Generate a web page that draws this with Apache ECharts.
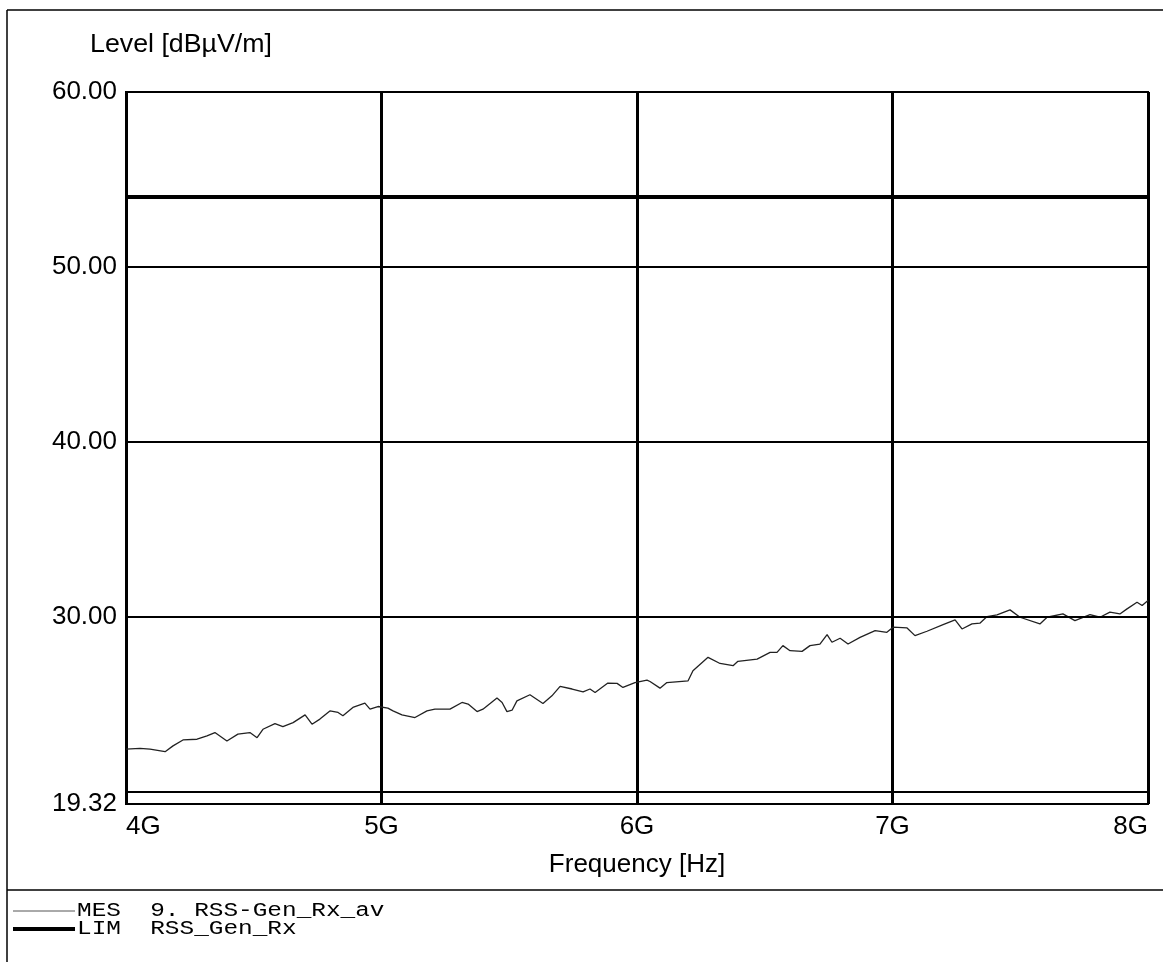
<!DOCTYPE html>
<html>
<head>
<meta charset="utf-8">
<title>Level vs Frequency</title>
<script src="https://cdn.jsdelivr.net/npm/echarts@6/dist/echarts.min.js"></script>
<style>
  html, body { margin: 0; padding: 0; background: #fff; }
  #chart { width: 1163px; height: 962px; }
</style>
</head>
<body>
<div id="chart"></div>
<script>
// frequency in GHz, level in dBuV/m
const mesFreq = [4.00, 4.055, 4.094, 4.153, 4.184, 4.223, 4.278, 4.317, 4.348, 4.395,
    4.438, 4.485, 4.513, 4.536, 4.583, 4.614, 4.654, 4.701, 4.728, 4.759,
    4.798, 4.830, 4.849, 4.888, 4.935, 4.955, 4.986, 5.025, 5.045, 5.080,
    5.131, 5.178, 5.209, 5.268, 5.315, 5.339, 5.374, 5.397, 5.452, 5.472,
    5.491, 5.511, 5.530, 5.581, 5.632, 5.667, 5.699, 5.746, 5.789, 5.816,
    5.836, 5.886, 5.922, 5.945, 5.992, 6.039, 6.051, 6.090, 6.117, 6.200,
    6.219, 6.278, 6.325, 6.376, 6.395, 6.470, 6.521, 6.548, 6.571, 6.599,
    6.646, 6.677, 6.716, 6.744, 6.763, 6.795, 6.826, 6.873, 6.932, 6.978,
    7.002, 7.057, 7.088, 7.135, 7.198, 7.245, 7.272, 7.311, 7.342, 7.370,
    7.409, 7.460, 7.499, 7.577, 7.605, 7.667, 7.714, 7.773, 7.812, 7.851,
    7.890, 7.918, 7.957, 7.977, 8.00];
const mesLevel = [22.45, 22.50, 22.45, 22.31, 22.64, 22.98, 23.02, 23.21, 23.40, 22.92,
    23.31, 23.40, 23.11, 23.59, 23.91, 23.74, 23.97, 24.41, 23.88, 24.17,
    24.64, 24.55, 24.36, 24.84, 25.08, 24.74, 24.89, 24.80, 24.64, 24.41,
    24.26, 24.64, 24.74, 24.74, 25.12, 25.03, 24.60, 24.74, 25.37, 25.12,
    24.60, 24.68, 25.21, 25.56, 25.06, 25.50, 26.04, 25.89, 25.73, 25.89,
    25.69, 26.23, 26.21, 25.98, 26.26, 26.40, 26.32, 25.94, 26.26, 26.36,
    26.93, 27.70, 27.35, 27.22, 27.47, 27.60, 27.98, 27.98, 28.37, 28.08,
    28.04, 28.37, 28.46, 29.00, 28.56, 28.79, 28.46, 28.84, 29.23, 29.13,
    29.42, 29.38, 28.94, 29.19, 29.57, 29.84, 29.32, 29.61, 29.65, 30.03,
    30.13, 30.41, 29.99, 29.61, 29.99, 30.18, 29.80, 30.14, 29.99, 30.28,
    30.18, 30.47, 30.85, 30.66, 30.95];
const limFreq = [4, 8];
const limLevel = [54.0, 54.0];
const yLabelValues = [19.32, 30, 40, 50, 60];
const yGridLevels = [20, 30, 40, 50];

const chart = echarts.init(document.getElementById('chart'));

const mesData = mesFreq.map((f, i) => [f, mesLevel[i]]);
const limData = limFreq.map((f, i) => [f, limLevel[i]]);

const labelFont = 'Arial, "Liberation Sans", Helvetica, sans-serif';
const monoFont = '"Courier New", "Liberation Mono", monospace';

const option = {
    animation: false,
    backgroundColor: '#fff',
    grid: {
        left: 126,
        right: 15,
        top: 92,
        bottom: 158,
        show: true,
        borderColor: '#000',
        borderWidth: 2
    },
    xAxis: {
        type: 'value',
        min: 4,
        max: 8,
        interval: 1,
        name: 'Frequency [Hz]',
        nameLocation: 'middle',
        nameGap: 48,
        nameTextStyle: { color: '#000', fontSize: 26, fontFamily: labelFont },
        axisLine: { show: true, lineStyle: { color: '#000', width: 2 } },
        axisTick: { show: false },
        axisLabel: {
            color: '#000',
            fontSize: 26,
            fontFamily: labelFont,
            margin: 10,
            alignMinLabel: 'left',
            alignMaxLabel: 'right',
            formatter: function (v) { return v + 'G'; }
        },
        splitLine: { show: true, lineStyle: { color: '#000', width: 3 } }
    },
    yAxis: {
        type: 'value',
        min: 19.32,
        max: 60,
        axisLine: { show: true, lineStyle: { color: '#000', width: 2 } },
        axisTick: { show: false },
        axisLabel: {
            color: '#000',
            fontSize: 26,
            fontFamily: labelFont,
            margin: 9,
            customValues: yLabelValues,
            formatter: function (v) { return v.toFixed(2); }
        },
        splitLine: { show: false }
    },
    graphic: [
        // outer frame and legend separator
        { type: 'line', shape: { x1: 7, y1: 10, x2: 7, y2: 962 }, style: { stroke: '#000', lineWidth: 1.5 } },
        { type: 'line', shape: { x1: 7, y1: 10, x2: 1163, y2: 10 }, style: { stroke: '#000', lineWidth: 1.5 } },
        { type: 'line', shape: { x1: 7, y1: 890, x2: 1163, y2: 890 }, style: { stroke: '#000', lineWidth: 1.5 } },
        {
            type: 'text', x: 90, y: 45, scaleX: 1.07,
            style: { text: 'Level [dBµV/m]', fill: '#000', font: '25px ' + labelFont, verticalAlign: 'middle' }
        },
        // legend
        { type: 'line', shape: { x1: 13, y1: 911, x2: 75, y2: 911 }, style: { stroke: '#555', lineWidth: 1 } },
        { type: 'line', shape: { x1: 13, y1: 929, x2: 75, y2: 929 }, style: { stroke: '#000', lineWidth: 4 } },
        {
            type: 'text', x: 77, y: 911, scaleX: 1.22,
            style: { text: 'MES  9. RSS-Gen_Rx_av', fill: '#000', font: '20px ' + monoFont, verticalAlign: 'middle' }
        },
        {
            type: 'text', x: 77, y: 929, scaleX: 1.22,
            style: { text: 'LIM  RSS_Gen_Rx', fill: '#000', font: '20px ' + monoFont, verticalAlign: 'middle' }
        }
    ],
    series: [
        {
            name: 'LIM',
            type: 'line',
            data: limData,
            showSymbol: false,
            lineStyle: { color: '#000', width: 4 },
            silent: true,
            markLine: {
                silent: true,
                symbol: 'none',
                label: { show: false },
                lineStyle: { color: '#000', width: 2, type: 'solid' },
                data: yGridLevels.map(v => ({ yAxis: v }))
            }
        },
        {
            name: 'MES',
            type: 'line',
            data: mesData,
            showSymbol: false,
            lineStyle: { color: '#222', width: 1.3 },
            silent: true
        }
    ]
};

chart.setOption(option);
</script>
</body>
</html>
